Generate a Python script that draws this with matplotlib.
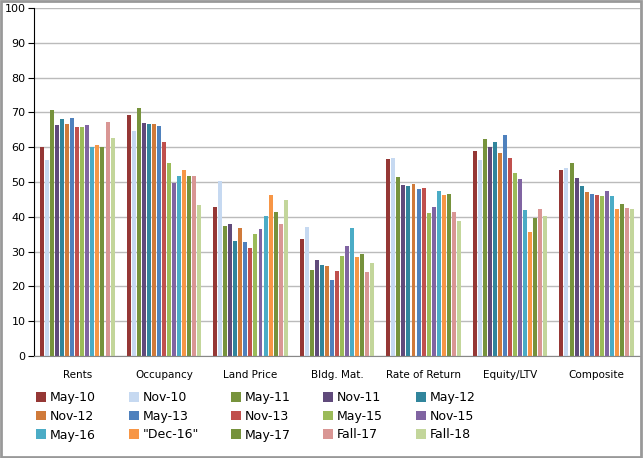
import matplotlib.pyplot as plt
from matplotlib.patches import Rectangle
import numpy as np

categories = ['Rents', 'Occupancy', 'Land Price', 'Bldg. Mat.', 'Rate of Return', 'Equity/LTV', 'Composite']
series = ['May-10', 'Nov-10', 'May-11', 'Nov-11', 'May-12',
          'Nov-12', 'May-13', 'Nov-13', 'May-15', 'Nov-15',
          'May-16', '"Dec-16"', 'May-17', 'Fall-17', 'Fall-18']
colors = ['#953735', '#C6D9F1', '#77933C', '#604A7B', '#31859C',
          '#D07A3A', '#4F81BD', '#C0504D', '#9BBB59', '#8064A2',
          '#4BACC6', '#F79646', '#76923C', '#D99694', '#C3D69B']

# one list per category, values in series order
rents = [60.2, 56.3, 70.7, 66.4, 68.1, 66.7, 68.5, 65.8, 65.8, 66.4, 60.1, 60.6, 60.1, 67.2, 62.6]
occupancy = [69.3, 64.7, 71.3, 67.0, 66.7, 66.7, 66.1, 61.5, 55.5, 49.7, 51.7, 53.4, 51.7, 51.7, 43.4]
land_price = [42.8, 50.3, 37.4, 37.9, 33.0, 36.8, 32.8, 31.0, 35.1, 36.5, 40.2, 46.3, 41.4, 37.9, 44.8]
bldg_mat = [33.6, 37.1, 24.7, 27.6, 26.1, 25.9, 21.8, 24.4, 28.7, 31.6, 36.8, 28.4, 29.3, 24.1, 26.7]
rate_of_return = [56.6, 56.9, 51.4, 49.1, 48.9, 49.4, 48.0, 48.3, 41.1, 42.8, 47.4, 46.3, 46.6, 41.4, 38.8]
equity_ltv = [58.9, 56.3, 62.4, 60.1, 61.5, 58.3, 63.5, 56.9, 52.6, 50.9, 42.0, 35.6, 39.7, 42.2, 40.2]
composite = [53.4, 54.0, 55.5, 51.1, 48.9, 47.1, 46.6, 46.3, 46.0, 47.4, 46.0, 42.2, 43.7, 42.5, 42.2]

data = np.array([rents, occupancy, land_price, bldg_mat, rate_of_return, equity_ltv, composite])

fig = plt.figure(figsize=(6.44, 4.58), dpi=100)
ax = fig.add_axes([34 / 644, 1 - 356 / 458, 606 / 644, 348 / 458])

x = np.arange(len(categories))
slot = 0.0582
width = 0.046
handles = []
for k, name in enumerate(series):
    h = ax.bar(x + (k - 7) * slot, data[:, k], width=width, color=colors[k], label=name)
    handles.append(h)

ax.set_xlim(-0.5, len(categories) - 0.5)
ax.set_ylim(0, 100)
ax.set_yticks(range(0, 101, 10))
ax.yaxis.grid(True, color='#BBBBBB', linewidth=1.0)
ax.set_axisbelow(True)
ax.set_xticks(x)
ax.set_xticklabels(categories, fontsize=7.5)
ax.tick_params(axis='x', length=0, pad=10)
ax.tick_params(axis='y', labelsize=8, length=4, direction='out', pad=2)
for s in ['top', 'right']:
    ax.spines[s].set_visible(False)
ax.spines['left'].set_color('#000000')
ax.spines['bottom'].set_color('#888888')

# reorder so legend reads row by row
order = [j + 5 * r for j in range(5) for r in range(3)]
fig.legend([handles[i] for i in order], [series[i] for i in order],
           ncol=5, loc='upper left', bbox_to_anchor=(30 / 644, 1 - 385 / 458),
           frameon=False, fontsize=9, handlelength=0.8, handleheight=0.8,
           handletextpad=0.3, columnspacing=2.6, labelspacing=0.45, borderpad=0)

fig.patches.append(Rectangle((0.002, 0.003), 0.994, 0.994, transform=fig.transFigure,
                             fill=False, edgecolor='#999999', linewidth=2))

fig.savefig('out.png', dpi=100)
